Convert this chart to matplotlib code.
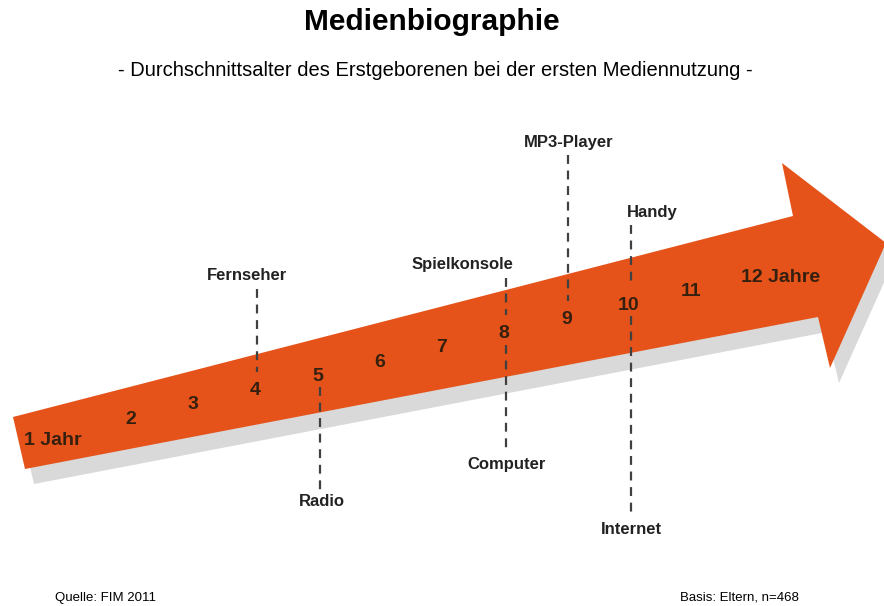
import matplotlib.pyplot as plt
from matplotlib.patches import Polygon

# data
ages = [1, 2, 3, 4, 5, 6, 7, 8, 9, 10, 11, 12]
age_labels = ['1 Jahr', '2', '3', '4', '5', '6', '7', '8', '9', '10', '11', '12 Jahre']
media = ['Fernseher', 'Radio', 'Spielkonsole', 'Computer', 'MP3-Player', 'Handy', 'Internet']
media_age = [4, 5, 8, 8, 9, 10, 10]

# layout (pixel space): label y and x shift, side of the arrow
label_y = [276, 502, 265, 464, 142, 212, 529]
label_dx = [-10, 2, -44, 0, 0, 22, 1]
above = [True, False, True, False, True, True, False]

orange = '#e5531a'
shadow = '#d9d9d9'
numcol = '#35200f'

def xpos(a):
    return 131 + (a - 2) * 62.2

def ypos(a):
    return 419 - (a - 2) * 14.2

fig = plt.figure(figsize=(8.84, 6.06), dpi=100)
ax = fig.add_axes([0, 0, 1, 1])
ax.set_xlim(0, 884)
ax.set_ylim(606, 0)
ax.axis('off')

arrow = [(13, 417), (793, 216), (782, 163), (886, 243), (830, 368), (818, 317), (25, 469)]
ax.add_patch(Polygon([(x + 9, y + 15) for x, y in arrow], closed=True, fc=shadow, ec='none', zorder=1))
ax.add_patch(Polygon(arrow, closed=True, fc=orange, ec='none', zorder=2))

for a, lab in zip(ages, age_labels):
    if a == 1:
        ax.text(xpos(a) - 45, ypos(a) + 7, lab, ha='left', va='center', fontsize=14,
                fontweight='bold', color=numcol, family='Liberation Sans', zorder=4)
    elif a == 12:
        ax.text(xpos(a) - 12, ypos(a), lab, ha='left', va='center', fontsize=14,
                fontweight='bold', color=numcol, family='Liberation Sans', zorder=4)
    else:
        ax.text(xpos(a), ypos(a), lab, ha='center', va='center', fontsize=14,
                fontweight='bold', color=numcol, family='Liberation Sans', zorder=4)

for m, a, ly, dx, up in zip(media, media_age, label_y, label_dx, above):
    x = xpos(a) + 2
    if up:
        ax.plot([x, x], [ly + 13, ypos(a) - 19], color='#404040', lw=1.6,
                dashes=(4, 3), zorder=3)
    else:
        ax.plot([x, x], [ypos(a) + 11, ly - 12], color='#404040', lw=1.6,
                dashes=(4, 3), zorder=3)
    ax.text(x + dx, ly, m, ha='center', va='center', fontsize=12, fontweight='bold',
            color='#222222', family='Liberation Sans', zorder=4)

ax.text(432, 22, 'Medienbiographie', ha='center', va='center', fontsize=21.5,
        fontweight='bold', color='black', family='Liberation Sans')
ax.text(435, 70, '- Durchschnittsalter des Erstgeborenen bei der ersten Mediennutzung -',
        ha='center', va='center', fontsize=14.5, color='black', family='Liberation Sans')
ax.text(55, 598, 'Quelle: FIM 2011', ha='left', va='center', fontsize=9.5,
        color='black', family='Liberation Sans')
ax.text(680, 598, 'Basis: Eltern, n=468', ha='left', va='center', fontsize=9.5,
        color='black', family='Liberation Sans')

fig.savefig('out.png', dpi=100)
